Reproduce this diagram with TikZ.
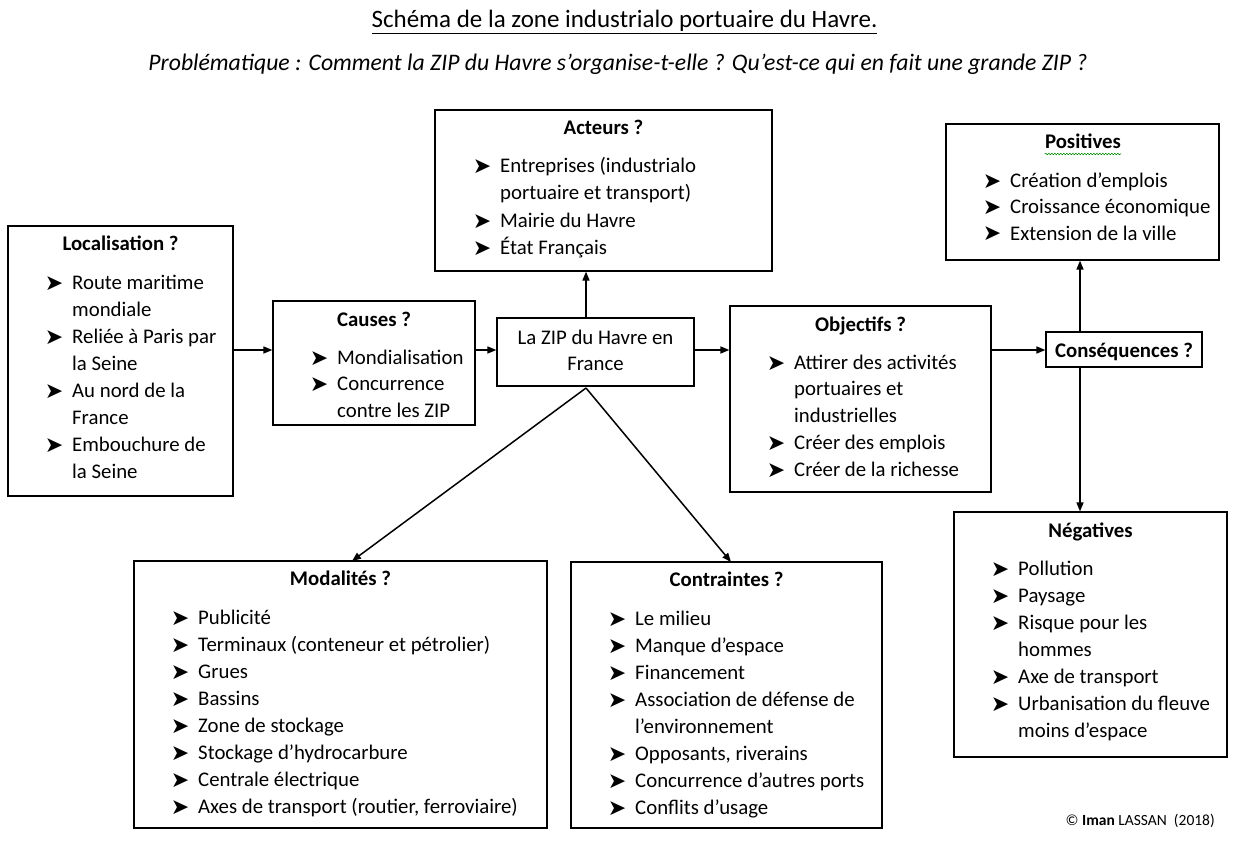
\documentclass[tikz,border=0pt]{standalone}
\usepackage{fontspec}
\setmainfont{Carlito}
\newfontfamily\symfont{DejaVu Sans}
\usetikzlibrary{arrows.meta,decorations.pathmorphing}
\newcommand\mainsize{\fontsize{20.8pt}{25pt}\selectfont}
\newcommand\bl{\llap{{\symfont\fontsize{22pt}{22pt}\selectfont\raisebox{-1pt}{➤}}\hspace{9pt}}}
\newcommand\itemlines[5]{%
  \foreach \lineT [count=\i] in {#5} {\node[txt] (#1\i) at (#2,{#3+#4*(\i-1)}) {\lineT};}}
\tikzset{
  box/.style={draw, line width=1.2pt, rectangle, inner sep=0pt},
  txt/.style={anchor=base west, inner sep=0pt, font=\mainsize, yshift=-2pt},
  ttl/.style={anchor=base, inner sep=0pt, font=\mainsize\bfseries, yshift=-2pt},
  ctr/.style={anchor=base, inner sep=0pt, font=\mainsize, yshift=-2pt},
  arr/.style={line width=1.5pt, -{Triangle[length=9pt,width=7pt]}},
}
\begin{document}
\begin{tikzpicture}[x=1pt,y=-1pt]
\useasboundingbox (0,0) rectangle (1236,861);
% headings
\node[anchor=base, inner sep=0pt, font=\fontsize{25pt}{30pt}\selectfont] (title) at (624.5,28) {\underline{Schéma de la zone industrialo portuaire du Havre.}};
\node[anchor=base, inner sep=0pt, font=\fontsize{23.7pt}{28pt}\selectfont\itshape] (sub) at (618,71) {Problématique : Comment la ZIP du Havre s’organise-t-elle ? Qu’est-ce qui en fait une grande ZIP ?};
% boxes
\node[box, minimum width=225pt, minimum height=270pt] (loc) at (120.5,361) {};
\node[box, minimum width=202pt, minimum height=124pt] (cau) at (374,363) {};
\node[box, minimum width=197pt, minimum height=68pt] (zip) at (595.5,352) {};
\node[box, minimum width=337pt, minimum height=161pt] (act) at (603.5,190.5) {};
\node[box, minimum width=261pt, minimum height=186pt] (obj) at (860.5,399) {};
\node[box, minimum width=156pt, minimum height=35pt] (con) at (1124,349.5) {};
\node[box, minimum width=273pt, minimum height=136pt] (pos) at (1082.5,192) {};
\node[box, minimum width=273pt, minimum height=245pt] (neg) at (1090.5,634.5) {};
\node[box, minimum width=413pt, minimum height=267pt] (mod) at (340.5,694.5) {};
\node[box, minimum width=311pt, minimum height=266pt] (ctrn) at (726.5,695) {};
% Localisation
\node[ttl] (locT) at (120.5,248) {Localisation ?};
\itemlines{locL}{72}{287}{27}{\bl Route maritime, mondiale, \bl Reliée à Paris par, la Seine, \bl Au nord de la, France, \bl Embouchure de, la Seine}
% Causes
\node[ttl] (cauT) at (374,324) {Causes ?};
\itemlines{cauL}{337}{362}{26.5}{\bl Mondialisation, \bl Concurrence, contre les ZIP}
% ZIP
\node[ctr] (zipA) at (595.5,342) {La ZIP du Havre en};
\node[ctr] (zipB) at (595.5,368) {France};
% Acteurs
\node[ttl] (actT) at (603.5,133) {Acteurs ?};
\itemlines{actL}{500}{171}{27}{\bl Entreprises (industrialo, portuaire et transport), \bl Mairie du Havre, \bl État Français}
% Objectifs
\node[ttl] (objT) at (860.5,329) {Objectifs ?};
\itemlines{objL}{794}{367}{26.8}{\bl Attirer des activités, portuaires et, industrielles, \bl Créer des emplois, \bl Créer de la richesse}
% Conséquences
\node[ttl] (conT) at (1124,355) {Conséquences ?};
% Positives
\node[ttl] (posT) at (1083,147) {Positives};
\draw[green!55!black, line width=0.6pt, decorate, decoration={snake, amplitude=0.8pt, segment length=3pt}] (posT.base west) ++(0,5) -- ([yshift=-5pt]posT.base east);
\itemlines{posL}{1010}{186}{26}{\bl Création d’emplois, \bl Croissance économique, \bl Extension de la ville}
% Négatives
\node[ttl] (negT) at (1090.5,535) {Négatives};
\itemlines{negL}{1018}{573}{27}{\bl Pollution, \bl Paysage, \bl Risque pour les, hommes, \bl Axe de transport, \bl Urbanisation du fleuve, moins d’espace}
% Modalités
\node[ttl] (modT) at (340.5,583) {Modalités ?};
\itemlines{modL}{198}{622}{27}{\bl Publicité, \bl Terminaux (conteneur et pétrolier), \bl Grues, \bl Bassins, \bl Zone de stockage, \bl Stockage d’hydrocarbure, \bl Centrale électrique, {\bl Axes de transport (routier, ferroviaire)}}
% Contraintes
\node[ttl] (ctrT) at (726.5,584) {Contraintes ?};
\itemlines{ctrL}{635}{623}{27}{\bl Le milieu, \bl Manque d’espace, \bl Financement, \bl Association de défense de, l’environnement, {\bl Opposants, riverains}, \bl Concurrence d’autres ports, \bl Conflits d’usage}
% copyright
\node[anchor=base east, inner sep=0pt, font=\fontsize{15.5pt}{18pt}\selectfont] (copy) at (1215,825) {© \textbf{Iman} LASSAN\ \ (2018)};
% helper coordinates
\coordinate (row) at (0,350);
\coordinate (col) at (586,0);
\coordinate (ccol) at (1080,0);
\coordinate (zipfoot) at (586,388);
\coordinate (modtip) at (352,561);
\coordinate (ctrtip) at (731,562);
% arrows
\draw[arr] (loc.east |- row) -- (cau.west |- row);
\draw[arr] (cau.east |- row) -- (zip.west |- row);
\draw[arr] (zip.east |- row) -- (obj.west |- row);
\draw[arr] (obj.east |- row) -- (con.west |- row);
\draw[arr] (zip.north -| col) -- (act.south -| col);
\draw[arr] (con.north -| ccol) -- (pos.south -| ccol);
\draw[arr] (con.south -| ccol) -- (neg.north -| ccol);
\draw[arr] (zipfoot) -- (modtip);
\draw[arr] (zipfoot) -- (ctrtip);
\end{tikzpicture}
\end{document}
